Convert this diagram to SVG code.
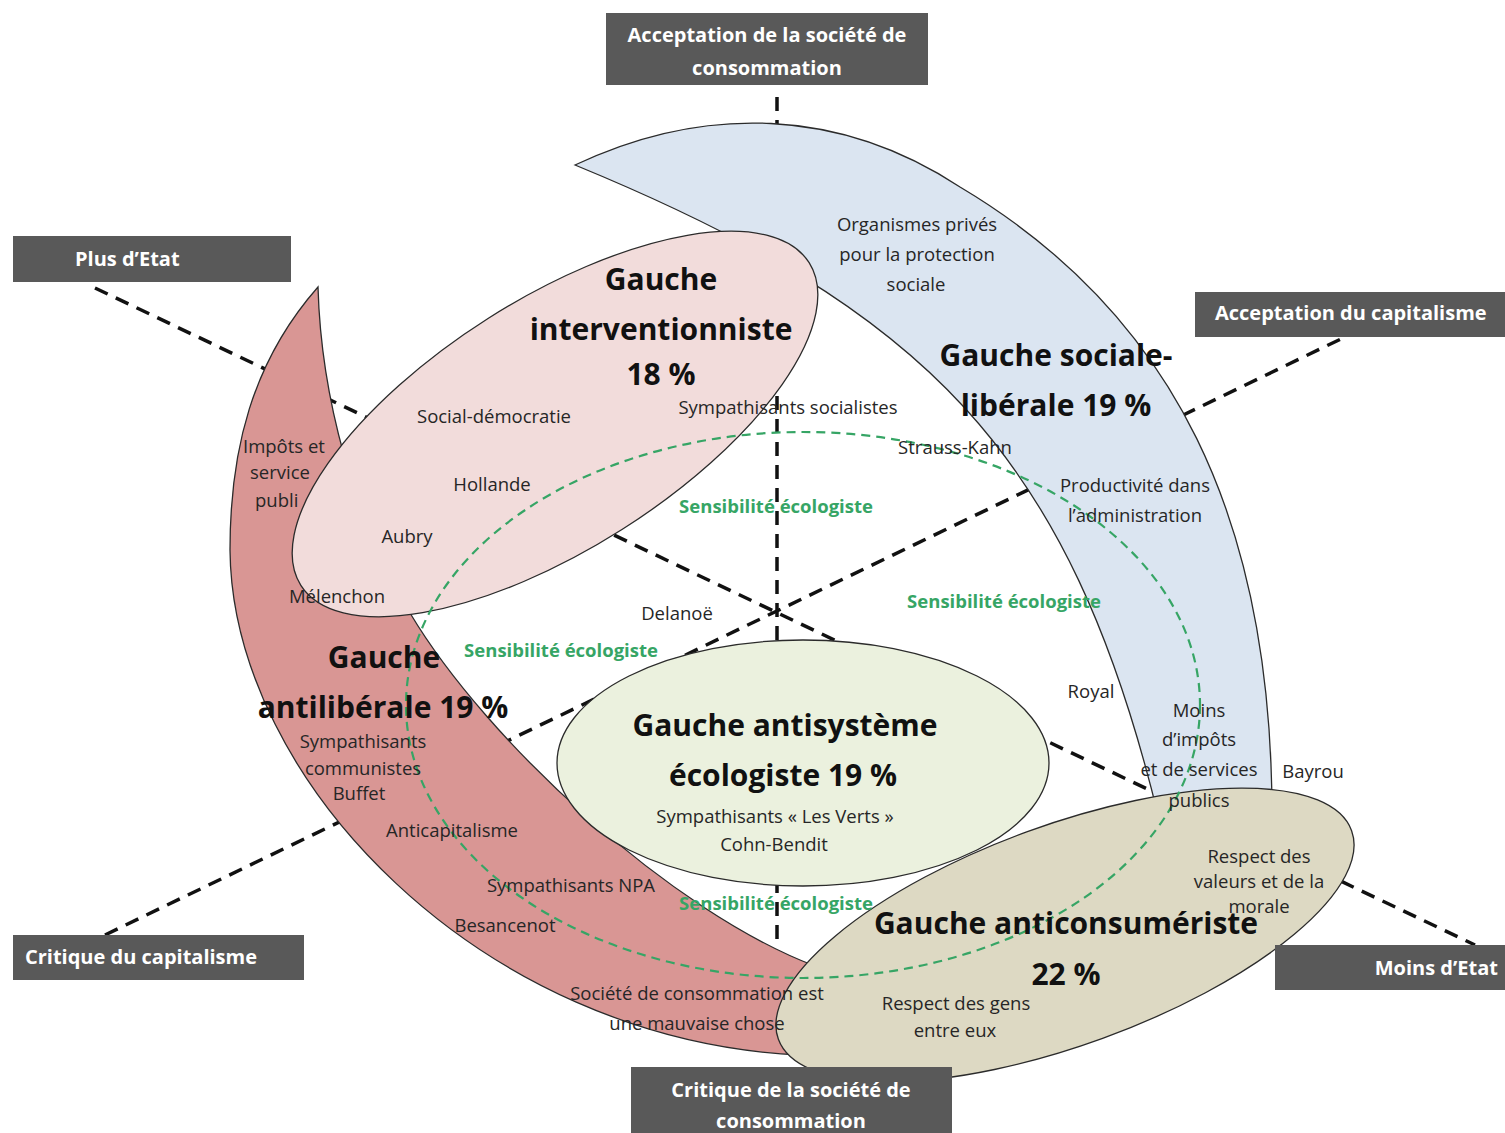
<svg xmlns="http://www.w3.org/2000/svg" width="1505" height="1133" viewBox="0 0 1505 1133">
<style>
text{font-family:"Open Sans","Liberation Sans",sans-serif}
.lbl{font-size:18.5px;fill:#262626;text-anchor:middle}
.lbs{font-size:18.5px;fill:#262626}
.ttl{font-size:30px;font-weight:700;fill:#111;text-anchor:middle}
.eco{font-size:18.5px;font-weight:700;fill:#36a565;text-anchor:middle}
.box{fill:#595959}
.axt{font-size:20px;font-weight:700;fill:#fff}
.axis{stroke:#111;stroke-width:3.5;stroke-dasharray:14 9;fill:none}
.shape{stroke:#2b2b2b;stroke-width:1.3}
</style>
<rect width="1505" height="1133" fill="#fff"/>

<g id="connectors">
<line class="axis" x1="95" y1="288" x2="1475" y2="945"/>
<line class="axis" x1="105" y1="935" x2="1345" y2="337"/>
<line class="axis" x1="777" y1="97" x2="777" y2="945"/>
</g>

<g id="node-gauche-antiliberale">
<path class="shape" fill="#d99694" d="M318 287 C252 362 230 450 230 550 C232 780 480 1040 800 1055 L860 1010 L815 966 C672 912 487 742 410 613 C354 518 321 397 318 287 Z"/>
<text class="lbs" x="243" y="453">Impôts et</text>
<text class="lbs" x="250" y="479">service</text>
<text class="lbs" x="255" y="507">publi</text>
</g>

<g id="node-gauche-sociale-liberale">
<path class="shape" fill="#dbe5f1" d="M575 165 C704 104 840 108 960 187 C1175 315 1272 520 1272 815 L1158 815 C1069 451 925 309 575 165 Z"/>
</g>

<g id="node-gauche-interventionniste">
<ellipse class="shape" fill="#f2dcdb" cx="555" cy="424" rx="301" ry="125" transform="rotate(-32.4 555 424)"/>
</g>

<g id="node-gauche-antisysteme">
<ellipse class="shape" fill="#ebf1de" cx="803" cy="763" rx="246" ry="123"/>
</g>

<g id="node-gauche-anticonsumeriste">
<ellipse class="shape" fill="#ddd9c3" cx="1065" cy="935" rx="305" ry="110" transform="rotate(-20 1065 935)"/>
</g>

<g id="node-sensibilite-ecologiste">
<ellipse cx="803" cy="705" rx="397" ry="273" fill="none" stroke="#36a565" stroke-width="2.2" stroke-dasharray="9 6"/>
<text class="eco" x="776" y="513">Sensibilité écologiste</text>
<text class="eco" x="1004" y="608">Sensibilité écologiste</text>
<text class="eco" x="561" y="657">Sensibilité écologiste</text>
<text class="eco" x="776" y="910">Sensibilité écologiste</text>
</g>

<g id="labels-gauche-interventionniste">
<text class="ttl" x="661" y="290">Gauche</text>
<text class="ttl" x="661" y="340">interventionniste</text>
<text class="ttl" x="661" y="385">18 %</text>
<text class="lbl" x="494" y="423">Social-démocratie</text>
<text class="lbl" x="788" y="414">Sympathisants socialistes</text>
<text class="lbl" x="492" y="491">Hollande</text>
<text class="lbl" x="407" y="543">Aubry</text>
<text class="lbl" x="337" y="603">Mélenchon</text>
<text class="lbl" x="677" y="620">Delanoë</text>
</g>

<g id="labels-gauche-sociale-liberale">
<text class="lbl" x="917" y="231">Organismes privés</text>
<text class="lbl" x="917" y="261">pour la protection</text>
<text class="lbl" x="916" y="291">sociale</text>
<text class="ttl" x="1056" y="366">Gauche sociale-</text>
<text class="ttl" x="1056" y="416">libérale 19 %</text>
<text class="lbl" x="955" y="454">Strauss-Kahn</text>
<text class="lbl" x="1135" y="492">Productivité dans</text>
<text class="lbl" x="1135" y="522">l’administration</text>
<text class="lbl" x="1091" y="698">Royal</text>
<text class="lbl" x="1199" y="717">Moins</text>
<text class="lbl" x="1199" y="746">d’impôts</text>
<text class="lbl" x="1199" y="776">et de services</text>
<text class="lbl" x="1199" y="807">publics</text>
<text class="lbl" x="1313" y="778">Bayrou</text>
</g>

<g id="labels-gauche-antiliberale">
<text class="ttl" x="384" y="668">Gauche</text>
<text class="ttl" x="383" y="718">antilibérale 19 %</text>
<text class="lbl" x="363" y="748">Sympathisants</text>
<text class="lbl" x="363" y="775">communistes</text>
<text class="lbl" x="359" y="800">Buffet</text>
<text class="lbl" x="452" y="837">Anticapitalisme</text>
<text class="lbl" x="571" y="892">Sympathisants NPA</text>
<text class="lbl" x="505" y="932">Besancenot</text>
<text class="lbl" x="697" y="1000">Société de consommation est</text>
<text class="lbl" x="697" y="1030">une mauvaise chose</text>
</g>

<g id="labels-gauche-antisysteme">
<text class="ttl" x="785" y="736">Gauche antisystème</text>
<text class="ttl" x="783" y="786">écologiste 19 %</text>
<text class="lbl" x="775" y="823">Sympathisants « Les Verts »</text>
<text class="lbl" x="774" y="851">Cohn-Bendit</text>
</g>

<g id="labels-gauche-anticonsumeriste">
<text class="lbl" x="1259" y="863">Respect des</text>
<text class="lbl" x="1259" y="888">valeurs et de la</text>
<text class="lbl" x="1259" y="913">morale</text>
<text class="ttl" x="1066" y="934">Gauche anticonsumériste</text>
<text class="ttl" x="1066" y="985">22 %</text>
<text class="lbl" x="956" y="1010">Respect des gens</text>
<text class="lbl" x="955" y="1037">entre eux</text>
</g>

<g id="node-acceptation-consommation">
<rect class="box" x="606" y="13" width="322" height="72"/>
<text class="axt" x="767" y="42" text-anchor="middle">Acceptation de la société de</text>
<text class="axt" x="767" y="75" text-anchor="middle">consommation</text>
</g>
<g id="node-plus-etat">
<rect class="box" x="13" y="236" width="278" height="46"/>
<text class="axt" x="75" y="266">Plus d’Etat</text>
</g>
<g id="node-acceptation-capitalisme">
<rect class="box" x="1195" y="292" width="310" height="45"/>
<text class="axt" x="1215" y="320">Acceptation du capitalisme</text>
</g>
<g id="node-critique-capitalisme">
<rect class="box" x="13" y="935" width="291" height="45"/>
<text class="axt" x="25" y="964">Critique du capitalisme</text>
</g>
<g id="node-moins-etat">
<rect class="box" x="1275" y="945" width="230" height="45"/>
<text class="axt" x="1498" y="975" text-anchor="end">Moins d’Etat</text>
</g>
<g id="node-critique-consommation">
<rect class="box" x="631" y="1067" width="321" height="66"/>
<text class="axt" x="791" y="1097" text-anchor="middle">Critique de la société de</text>
<text class="axt" x="791" y="1128" text-anchor="middle">consommation</text>
</g>
</svg>
